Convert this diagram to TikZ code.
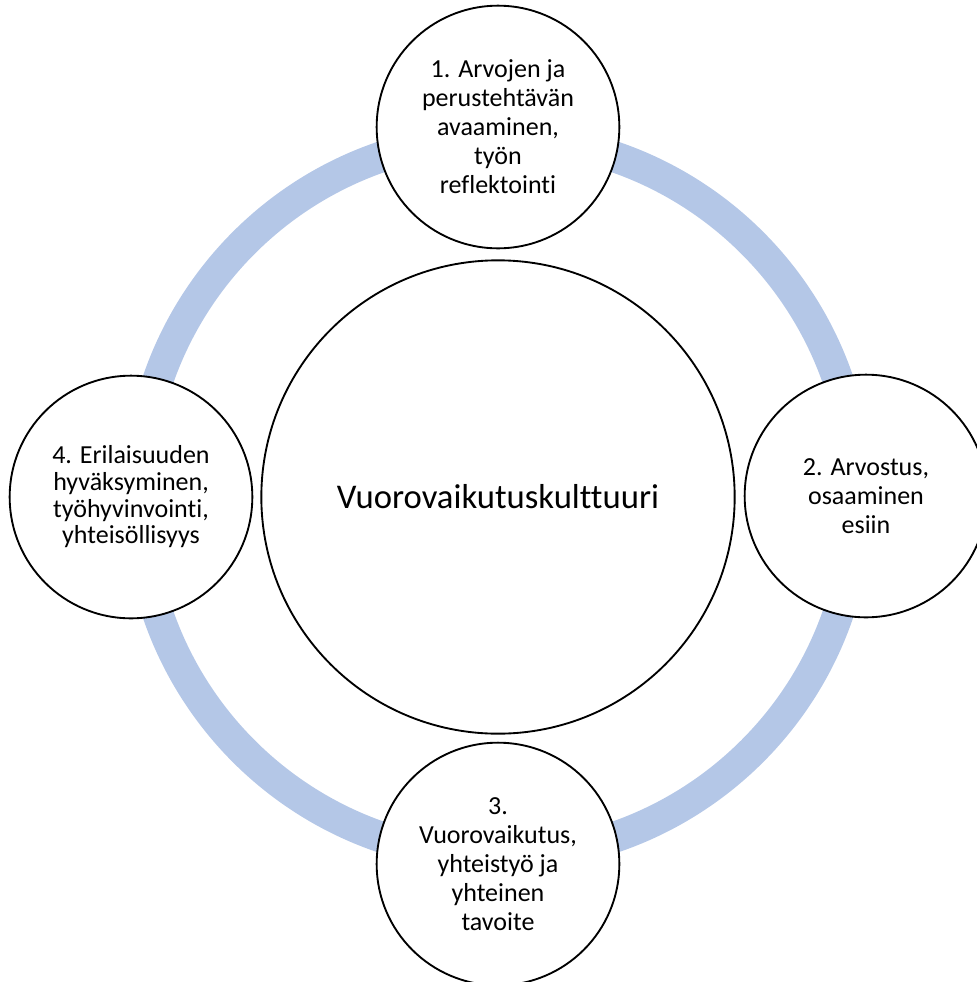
\documentclass[tikz,border=0pt]{standalone}
\usepackage{fontspec}
\setmainfont{Carlito}[Ligatures=NoCommon]
\definecolor{ringblue}{HTML}{B4C7E7}
\begin{document}
\begin{tikzpicture}[
    x=0.75pt, y=-0.75pt,
    hub/.style={circle, draw=black, line width=1.4pt, fill=white, minimum size=355pt, inner sep=0pt,
        font=\fontsize{26}{32}\selectfont},
    item/.style={circle, draw=black, line width=1.4pt, fill=white, minimum size=182pt, inner sep=0pt,
        align=center, font=\fontsize{19.5}{21.75}\selectfont},
    ring/.style={draw=ringblue, line width=23.25pt}
]
\useasboundingbox (0,0) rectangle (977,982);

\coordinate (O) at (498,497);
\draw[ring] (O) circle[radius=359.5];

\node[hub] (C) at (O) {Vuorovaikutuskulttuuri};

\node[item] (T) at (498,127) {1. Arvojen ja\\perustehtävän\\avaaminen,\\työn\\reflektointi};
\node[item] (R) at (866,496) {2. Arvostus,\\osaaminen\\esiin};
\node[item] (B) at (498,864) {3.\\Vuorovaikutus,\\yhteistyö ja\\yhteinen\\tavoite};
\node[item, font=\fontsize{19.5}{20}\selectfont] (L) at (131,497) {4. Erilaisuuden\\hyväksyminen,\\työhyvinvointi,\\yhteisöllisyys};

\end{tikzpicture}
\end{document}
